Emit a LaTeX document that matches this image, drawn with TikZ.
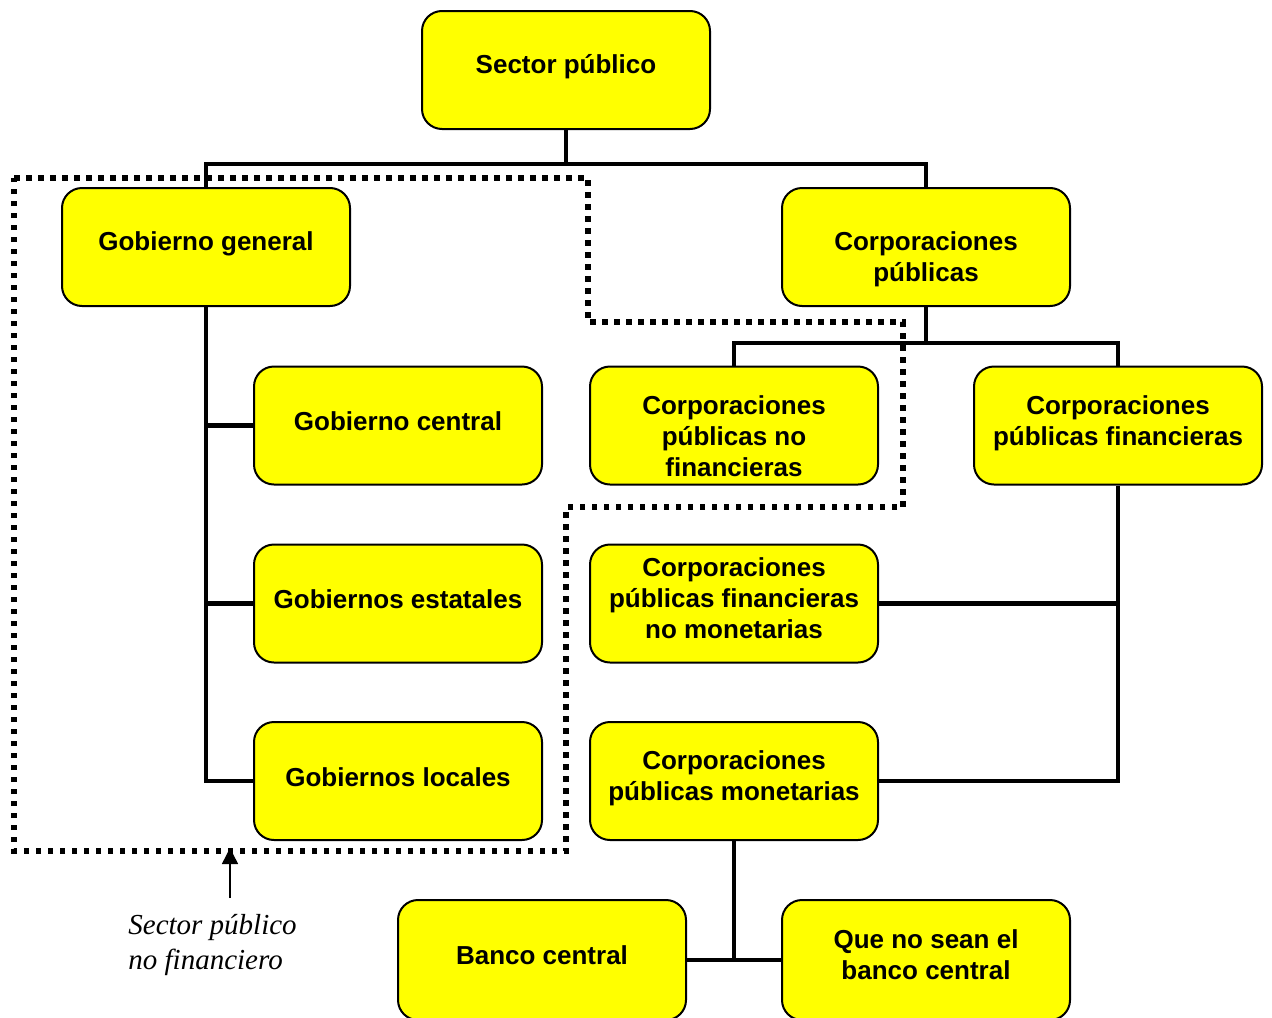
\documentclass[tikz,border=0pt]{standalone}
\usepackage{fontspec}
\setmainfont{Liberation Sans}
\newfontfamily\labelserif{Liberation Serif}
\usetikzlibrary{arrows.meta}
\definecolor{boxyellow}{HTML}{FFFF00}
\tikzset{
  box/.style={draw=black, line width=1pt, fill=boxyellow, rounded corners=10pt,
    minimum width=144pt, minimum height=59pt, inner sep=0pt},
  btxt/.style={font=\fontsize{13pt}{15.6pt}\selectfont\bfseries, align=center, inner sep=0pt},
  conn/.style={line width=2.4pt, line join=miter},
  npfline/.style={line width=2.75pt, dash pattern=on 2.75pt off 3.25pt, line cap=butt},
  note/.style={font=\labelserif\itshape\fontsize{14.5pt}{17.5pt}\selectfont, align=left, inner sep=0pt, anchor=west}
}
\begin{document}
\begin{tikzpicture}[x=0.5pt, y=-0.5pt]
\useasboundingbox (0,0) rectangle (1272,1017);
\clip (0,0) rectangle (1272,1017);
\fill[white] (0,0) rectangle (1272,1017);

% boxes
\node[box] (sp) at (566,70) {};
\node[box] (gg) at (206,247) {};
\node[box] (cp) at (926,247) {};
\node[box] (gc) at (398,425.5) {};
\node[box] (cpnf) at (734,425.5) {};
\node[box] (cpf) at (1118,425.5) {};
\node[box] (ge) at (398,603.5) {};
\node[box] (cpfnm) at (734,603.5) {};
\node[box] (gl) at (398,781) {};
\node[box] (cpm) at (734,781) {};
\node[box, minimum height=60pt] (bc) at (542,960) {};
\node[box, minimum height=60pt] (qns) at (926,960) {};

% texts
\node[btxt] at (566,67) {Sector público};
\node[btxt] at (206,244) {Gobierno general};
\node[btxt] at (926,259) {Corporaciones\\públicas};
\node[btxt] at (398,421) {Gobierno central};
\node[btxt] at (734,436) {Corporaciones\\públicas no\\financieras};
\node[btxt] at (1118,423) {Corporaciones\\públicas financieras};
\node[btxt] at (398,599) {Gobiernos estatales};
\node[btxt] at (734,598) {Corporaciones\\públicas financieras\\no monetarias};
\node[btxt] at (398,777) {Gobiernos locales};
\node[btxt] at (734,778) {Corporaciones\\públicas monetarias};
\node[btxt] at (542,955) {Banco central};
\node[btxt] at (926,955) {Que no sean el\\banco central};

% connectors
\draw[conn] (sp.south) -- ++(0,34) coordinate (j1);
\draw[conn] (gg.north) |- (j1) -| (cp.north);
\draw[conn] (gg.south) |- (gl.west);
\draw[conn] (gc.west) -- (gc.west -| gg.south);
\draw[conn] (ge.west) -- (ge.west -| gg.south);
\draw[conn] (cp.south) -- ++(0,36) coordinate (j2);
\draw[conn] (cpnf.north) |- (j2) -| (cpf.north);
\draw[conn] (cpf.south) |- (cpm.east);
\draw[conn] (cpfnm.east) -- (cpfnm.east -| cpf.south);
\draw[conn] (cpm.south) |- (bc.east);
\draw[conn] (qns.west) -- (qns.west -| cpm.south);

% non-financial public sector boundary
\draw[npfline] (14,178) -- (588,178) -- (588,322) -- (903,322) -- (903,507)
  -- (566,507) -- (566,851) -- (14,851) -- cycle;
\coordinate (npf) at (230,848);
\coordinate (arrfoot) at (230,898);
\draw[line width=0.75pt, -{Triangle[length=8pt,width=8pt]}] (arrfoot) -- (npf);

\node[note] (lab) at (128,945) {Sector público\\no financiero};
\end{tikzpicture}
\end{document}
